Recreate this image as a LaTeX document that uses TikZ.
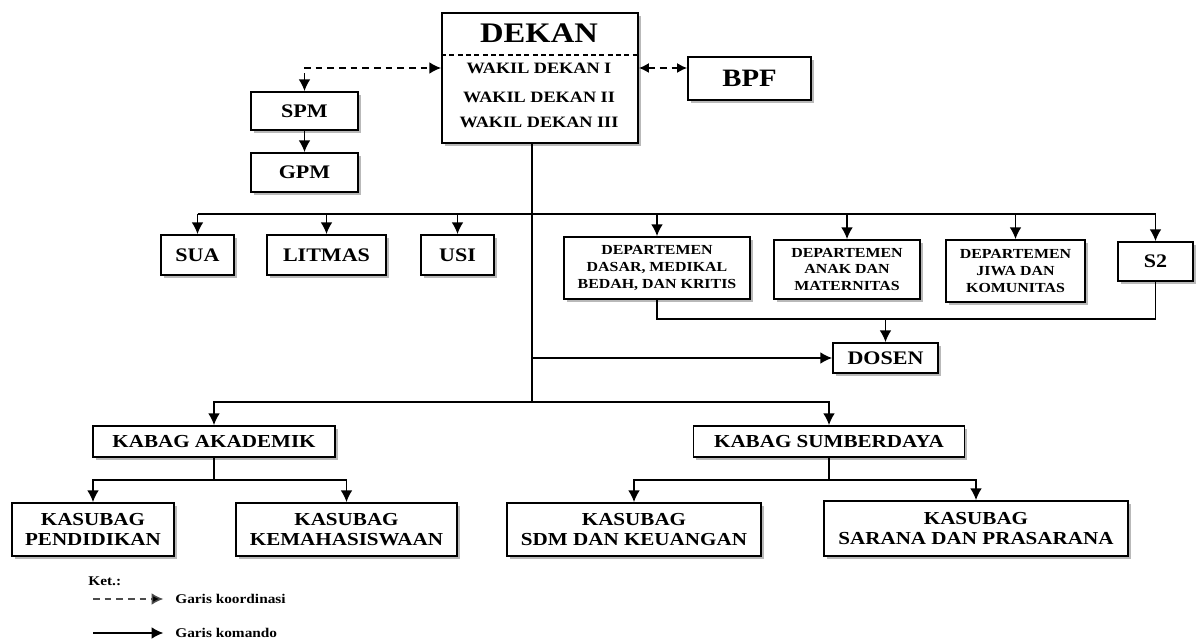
\documentclass[tikz,border=0pt]{standalone}
\usepackage{fontspec}
\setmainfont{Liberation Serif}[FakeStretch=1.15]
\usetikzlibrary{arrows.meta,shadows}
\tikzstyle{org box}=[draw, line width=1.1pt, fill=white, inner sep=0pt, align=center,
    font=\bfseries\fontsize{11.5}{12}\selectfont,
    drop shadow={shadow xshift=1.6pt,shadow yshift=-1.6pt,fill=black!55,opacity=.5}]
\tikzstyle{dept}=[font=\bfseries\fontsize{8.3}{10}\selectfont]
\tikzstyle{kasubag}=[font=\bfseries\fontsize{11}{11.6}\selectfont]
\tikzstyle{wakil}=[inner sep=1pt, font=\bfseries\fontsize{9.5}{10}\selectfont]
\tikzstyle{cmd line}=[line width=.9pt]
\tikzstyle{coord line}=[line width=.9pt, dash pattern=on 4pt off 3pt]
\tikzstyle{legend}=[anchor=west, inner sep=0pt, font=\bfseries\fontsize{8}{9}\selectfont]

\begin{document}
\begin{tikzpicture}[x=.6pt,y=-.6pt,>={Latex[length=7pt,width=7pt]}]
    \useasboundingbox (0,0) rectangle (1200,639);

    % Pimpinan
    \node[org box, minimum width=117.6pt, minimum height=78pt] (dekan) at (540,78) {};
    \node[inner sep=0pt, font=\bfseries\fontsize{17}{18}\selectfont] (dktitle) at (539,33) {DEKAN};
    \coordinate (div) at (540,55);
    \draw[line width=.8pt, dash pattern=on 3pt off 2pt] (dekan.west |- div) -- (dekan.east |- div);
    \node[wakil] (wd1) at (539,68) {WAKIL DEKAN I};
    \node[wakil] (wd2) at (539,97) {WAKIL DEKAN II};
    \node[wakil] (wd3) at (539,122) {WAKIL DEKAN III};
    \node[org box, minimum width=73.8pt, minimum height=25.8pt,
        font=\bfseries\fontsize{15}{17}\selectfont] (bpf) at (749.5,78.5) {BPF};
    \node[org box, minimum width=64.2pt, minimum height=22.8pt] (spm) at (304.5,111) {SPM};
    \node[org box, minimum width=64.2pt, minimum height=23.4pt] (gpm) at (304.5,172.5) {GPM};

    % Unit dan departemen
    \node[org box, minimum width=43.8pt, minimum height=24pt] (sua) at (197.5,255) {SUA};
    \node[org box, minimum width=71.4pt, minimum height=24pt] (litmas) at (326.5,255) {LITMAS};
    \node[org box, minimum width=43.8pt, minimum height=24pt] (usi) at (457.5,255) {USI};
    \node[org box, dept, minimum width=111.6pt, minimum height=37.2pt] (dep1) at (657,268)
        {DEPARTEMEN\\DASAR, MEDIKAL\\BEDAH, DAN KRITIS};
    \node[org box, dept, minimum width=87.6pt, minimum height=35.4pt] (dep2) at (847,269.5)
        {DEPARTEMEN\\ANAK DAN\\MATERNITAS};
    \node[org box, dept, minimum width=83.4pt, minimum height=37.2pt] (dep3) at (1015.5,271)
        {DEPARTEMEN\\JIWA DAN\\KOMUNITAS};
    \node[org box, minimum width=45pt, minimum height=23.4pt] (s2) at (1155.5,261.5) {S2};
    \node[org box, minimum width=63pt, minimum height=18pt] (dosen) at (885.5,358) {DOSEN};

    % Bagian
    \node[org box, kasubag, minimum width=145.2pt, minimum height=18.6pt] (kabak) at (214,441.5) {KABAG AKADEMIK};
    \node[org box, kasubag, minimum width=162.6pt, minimum height=18.6pt] (kabsd) at (829,441.5) {KABAG SUMBERDAYA};
    \node[org box, kasubag, minimum width=97.2pt, minimum height=31.8pt] (pend) at (93,529.5) {KASUBAG\\PENDIDIKAN};
    \node[org box, kasubag, minimum width=132.6pt, minimum height=31.8pt] (kemah) at (346.5,529.5) {KASUBAG\\KEMAHASISWAAN};
    \node[org box, kasubag, minimum width=152.4pt, minimum height=31.8pt] (sdm) at (634,529.5) {KASUBAG\\SDM DAN KEUANGAN};
    \node[org box, kasubag, minimum width=182.4pt, minimum height=33pt] (sarana) at (976,528.5) {KASUBAG\\SARANA DAN PRASARANA};

    % Garis koordinasi
    \draw[coord line,<->] (spm.north) |- (dekan.west |- wd1);
    \draw[coord line,<->,>={Latex[length=6pt,width=6pt]}] (dekan.east |- wd1) -- (bpf.west |- wd1);

    % Garis komando
    \coordinate (t1) at (532,214);
    \coordinate (t2) at (532,358);
    \coordinate (t3) at (532,402);
    \coordinate (j) at (883,319);
    \draw[cmd line,->] (spm) -- (gpm);
    \draw[cmd line] (dekan.south -| t1) -- (t3);
    \draw[cmd line] (sua.north |- t1) -- (s2.north |- t1);
    \foreach \n in {sua,litmas,usi,dep1,dep2,dep3,s2}
        \draw[cmd line,->] (\n.north |- t1) -- (\n.north);
    \draw[cmd line] (dep1.south) |- (s2.south |- j) -- (s2.south);
    \draw[cmd line,->] (dosen.north |- j) -- (dosen.north);
    \draw[cmd line,->] (t2) -- (dosen.west);
    \draw[cmd line,->] (t3) -| (kabak.north);
    \draw[cmd line,->] (t3) -| (kabsd.north);
    \draw[cmd line,->] (kabak.south) -- ++(0,22) -| (pend.north);
    \draw[cmd line,->] (kabak.south) -- ++(0,22) -| (kemah.north);
    \draw[cmd line,->] (kabsd.south) -- ++(0,22) -| (sdm.north);
    \draw[cmd line,->] (kabsd.south) -- ++(0,22) -| (sarana.north);

    % Keterangan
    \node[legend] (ket) at (88,581) {Ket.:};
    \coordinate (k1) at (93,599);
    \coordinate (k2) at (93,633);
    \node[legend] (lkoord) at (175,599) {Garis koordinasi};
    \node[legend] (lkomando) at (175,633) {Garis komando};
    \draw[coord line,black!70,->,>={Latex[length=7pt,width=7pt,fill=black]}] (k1) -- ([xshift=-7pt]lkoord.west);
    \draw[cmd line,->] (k2) -- ([xshift=-7pt]lkomando.west);

\end{tikzpicture}
\end{document}
